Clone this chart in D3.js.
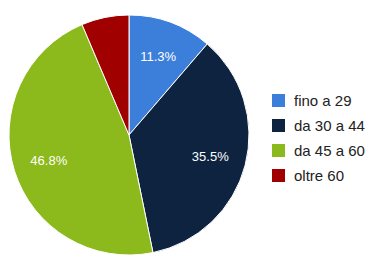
<!DOCTYPE html>
<html>
<script src="https://d3js.org/d3.v7.min.js"></script>
<style>
  body { margin: 0; background: white; }
  svg { font-family: Arial, 'Liberation Sans', sans-serif; }
</style>
<body>
<svg width="370" height="257"></svg>
<script>
  // data
  const categories = ["fino a 29", "da 30 a 44", "da 45 a 60", "oltre 60"];
  const values = [11.3, 35.5, 46.8, 6.4];
  const colors = ["#3b7fdb", "#0e2340", "#8cb91b", "#a10000"];

  const svg = d3.select("svg");
  const cx = 129, cy = 135, r = 120;

  const pie = d3.pie().sort(null).value(d => d.v);
  const data = categories.map((c, i) => ({ c: c, v: values[i], col: colors[i] }));
  const arc = d3.arc().innerRadius(0).outerRadius(r);
  const labelArc = d3.arc().innerRadius(r * 0.7).outerRadius(r * 0.7);

  const g = svg.append("g").attr("transform", "translate(" + cx + "," + cy + ")");
  const slices = g.selectAll("g.slice").data(pie(data)).enter().append("g").attr("class", "slice");

  slices.append("path")
    .attr("d", arc)
    .attr("fill", d => d.data.col)
    .attr("stroke", "white")
    .attr("stroke-width", 1);

  // only label slices big enough
  slices.filter(d => d.data.v > 10).append("text")
    .attr("transform", d => "translate(" + labelArc.centroid(d) + ")")
    .attr("text-anchor", "middle")
    .attr("dy", "0.35em")
    .attr("fill", "white")
    .style("font-size", "13px")
    .text(d => d.data.v.toFixed(1) + "%");

  // legend
  const legend = svg.append("g").attr("transform", "translate(272,94)");
  const row = legend.selectAll("g").data(data).enter().append("g")
    .attr("transform", (d, i) => "translate(0," + i * 25 + ")");
  row.append("rect").attr("width", 13).attr("height", 13).attr("fill", d => d.col);
  row.append("text").attr("x", 22).attr("y", 7).attr("dy", "0.35em")
    .attr("fill", "#222").style("font-size", "15px").text(d => d.c);
</script>
</body>
</html>
